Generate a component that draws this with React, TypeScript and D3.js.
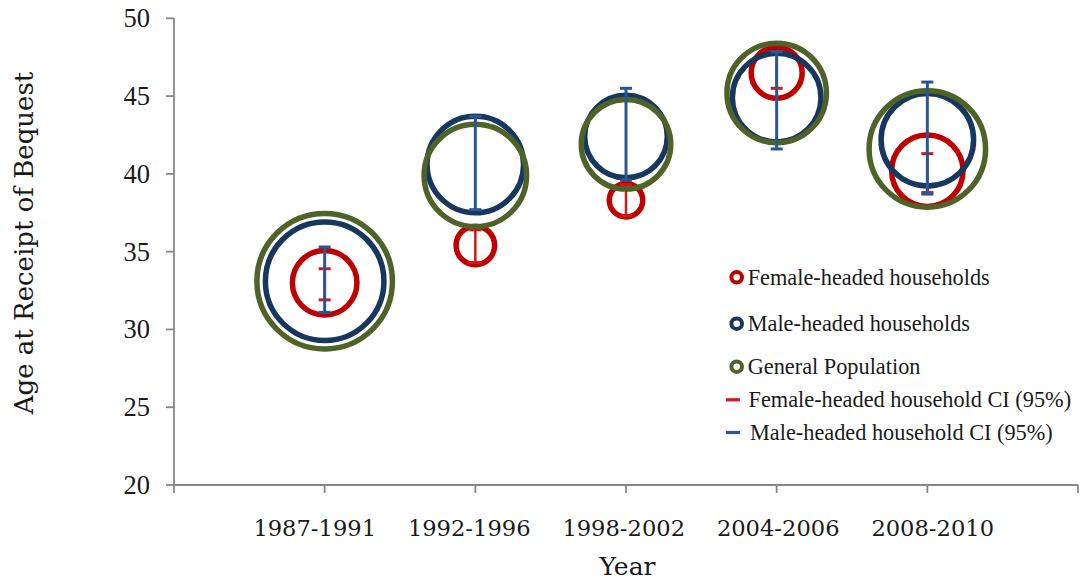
import React from "react";
import * as d3 from "d3";

const categories = ["1987-1991", "1992-1996", "1998-2002", "2004-2006", "2008-2010"];
const femaleAge = [33.0, 35.4, 38.3, 46.5, 40.2];
const maleAge = [33.1, 40.6, 42.4, 44.9, 42.2];
const generalAge = [33.1, 39.9, 41.9, 45.2, 41.6];
const femaleSize = [22.7, 8.1, 6.1, 14.2, 27.8];
const maleSize = [76.5, 50.7, 37.1, 42.7, 46.6];
const generalSize = [100, 57.2, 43.6, 53.9, 73.9];
const femaleCILow = [31.9, 34.3, 37.3, 45.5, 38.8];
const femaleCIHigh = [33.9, 36.4, 39.3, 47.85, 41.3];
const maleCILow = [31.1, 37.7, 39.6, 41.6, 38.7];
const maleCIHigh = [35.3, 43.7, 45.5, 47.85, 45.9];
const yTicks = [20, 25, 30, 35, 40, 45, 50];
const legendLabels = [
  "Female-headed households",
  "Male-headed households",
  "General Population",
  "Female-headed household CI (95%)",
  "Male-headed household CI (95%)",
];

const RED = "#C00000";
const BLUE = "#17375E";
const GREEN = "#4F6228";
const RED_CI = "#D01818";
const BLUE_CI = "#2A5790";
const AXIS = "#878787";

export default function App() {
  const W = 1080, H = 581;
  const x = d3.scaleLinear().domain([0, 6]).range([174, 1078]);
  const y = d3.scaleLinear().domain([20, 50]).range([485, 18.3]);
  const r = d3.scaleSqrt().domain([0, 100]).range([0, 67.75]);
  const labelX = d3.scaleLinear().domain([0, 4]).range([314.7, 932.7]);
  const xTicks = d3.range(0, 7);
  const sw = 5.5;

  const rings = (ages: number[], sizes: number[], color: string, key: string) =>
    ages.map((a, i) => (
      <circle key={key + i} cx={x(i + 1)} cy={y(a)} r={r(sizes[i])} fill="none" stroke={color} strokeWidth={sw} />
    ));

  const ci = (lo: number[], hi: number[], color: string, key: string, lw: number) =>
    lo.map((l, i) => {
      const cx = x(i + 1);
      return (
        <g key={key + i}>
          <line x1={cx} x2={cx} y1={y(l)} y2={y(hi[i])} stroke={color} strokeWidth={lw} />
          <line x1={cx - 6} x2={cx + 6} y1={y(l)} y2={y(l)} stroke={color} strokeWidth={3} />
          <line x1={cx - 6} x2={cx + 6} y1={y(hi[i])} y2={y(hi[i])} stroke={color} strokeWidth={3} />
        </g>
      );
    });

  const legendRows = [
    { type: "ring", color: RED, cy: 277.3 },
    { type: "ring", color: BLUE, cy: 323.7 },
    { type: "ring", color: GREEN, cy: 366.7 },
    { type: "dash", color: RED_CI, cy: 399.8 },
    { type: "dash", color: BLUE_CI, cy: 432.5 },
  ];

  return (
    <svg width={W} height={H} style={{ position: "absolute", left: 0, top: 0, display: "block", background: "#fff" }}>
      {/* axes */}
      <line x1={x(0)} x2={x(0)} y1={y(50)} y2={y(20)} stroke={AXIS} strokeWidth={1.8} />
      <line x1={x(0)} x2={x(6)} y1={y(20)} y2={y(20)} stroke={AXIS} strokeWidth={1.8} />
      {yTicks.map((t) => (
        <g key={"yt" + t}>
          <line x1={x(0) - 8} x2={x(0)} y1={y(t)} y2={y(t)} stroke={AXIS} strokeWidth={1.8} />
          <text x={150} y={y(t)} textAnchor="end" dominantBaseline="central" fontFamily="'Liberation Serif', serif" fontSize={26.5} fill="#1a1a1a">
            {t}
          </text>
        </g>
      ))}
      {xTicks.map((t) => (
        <line key={"xt" + t} x1={x(t)} x2={x(t)} y1={y(20)} y2={y(20) + 8} stroke={AXIS} strokeWidth={1.8} />
      ))}
      {categories.map((c, i) => (
        <text key={"xl" + i} x={labelX(i)} y={527.5} textAnchor="middle" dominantBaseline="central" fontFamily="'DejaVu Serif', serif" fontSize={22.6} fill="#1a1a1a">
          {c}
        </text>
      ))}
      <text x={627.5} y={566} textAnchor="middle" dominantBaseline="central" fontFamily="'DejaVu Serif', serif" fontSize={25} fill="#1a1a1a">
        Year
      </text>
      <text transform={`translate(33,243) rotate(-90)`} textAnchor="middle" fontFamily="'DejaVu Serif', serif" fontSize={26} fill="#1a1a1a">
        Age at Receipt of Bequest
      </text>

      {/* bubbles */}
      {rings(femaleAge, femaleSize, RED, "f")}
      {ci(femaleCILow, femaleCIHigh, RED_CI, "fci", 2.5)}
      {rings(maleAge, maleSize, BLUE, "m")}
      {rings(generalAge, generalSize, GREEN, "g")}
      {ci(maleCILow, maleCIHigh, BLUE_CI, "mci", 3)}

      {/* legend */}
      {legendRows.map((row, i) => (
        <g key={"lg" + i}>
          {row.type === "ring" ? (
            <circle cx={736.7} cy={row.cy} r={5.3} fill="none" stroke={row.color} strokeWidth={4} />
          ) : (
            <line x1={726} x2={740} y1={row.cy} y2={row.cy} stroke={row.color} strokeWidth={3.2} />
          )}
          <text x={i < 3 ? 747.7 : i === 3 ? 748.5 : 750} y={row.cy} dominantBaseline="central" fontFamily="'Liberation Serif', serif" fontSize={22.3} fill="#1a1a1a">
            {legendLabels[i]}
          </text>
        </g>
      ))}
    </svg>
  );
}
